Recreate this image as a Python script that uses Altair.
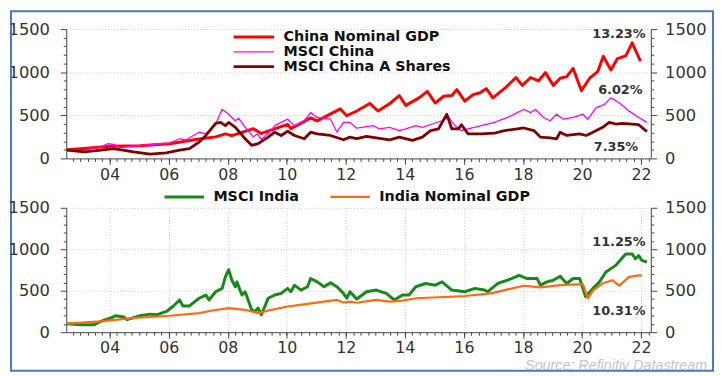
import altair as alt
import pandas as pd

# ---------------- data (x = decimal year) ----------------
cn_gdp_t = [2002.55, 2002.92, 2004.03, 2005.03, 2006.03, 2007.03, 2007.59, 2007.92, 2008.14, 2008.87,
            2009.14, 2010.03, 2010.14, 2010.81, 2011.03, 2011.81, 2012.03, 2012.37, 2012.81, 2013.09,
            2013.48, 2013.81, 2014.03, 2014.48, 2014.76, 2015.03, 2015.31, 2015.59, 2015.76, 2016.03,
            2016.31, 2016.53, 2016.76, 2016.98, 2017.42, 2017.76, 2017.98, 2018.26, 2018.53, 2018.76,
            2019.03, 2019.26, 2019.48, 2019.70, 2019.98, 2020.26, 2020.53, 2020.72, 2020.98, 2021.20,
            2021.48, 2021.70, 2021.98]
cn_gdp_v = [100, 110, 140, 148, 170, 225, 250, 285, 265, 345,
            290, 395, 345, 470, 435, 575, 495, 550, 638, 550,
            634, 729, 615, 702, 778, 642, 721, 729, 797, 664,
            740, 759, 809, 702, 824, 938, 847, 938, 900, 995,
            847, 930, 949, 1044, 786, 930, 1006, 1185, 1025, 1158,
            1189, 1340, 1128]

msci_cn_t = [2002.55, 2003.03, 2003.70, 2003.92, 2004.14, 2004.37, 2005.03, 2005.70, 2006.03, 2006.37,
             2006.59, 2007.03, 2007.26, 2007.59, 2007.81, 2008.03, 2008.26, 2008.37, 2008.59, 2008.87,
             2009.00, 2009.14, 2009.40, 2009.59, 2010.03, 2010.26, 2010.59, 2010.81, 2011.03, 2011.48,
             2011.70, 2011.92, 2012.14, 2012.37, 2012.92, 2013.14, 2013.48, 2013.81, 2014.03, 2014.37,
             2014.59, 2014.92, 2015.26, 2015.48, 2015.70, 2015.92, 2016.14, 2016.59, 2017.03, 2017.48,
             2017.81, 2018.03, 2018.26, 2018.42, 2018.70, 2018.92, 2019.14, 2019.37, 2019.70, 2020.03,
             2020.20, 2020.48, 2020.76, 2020.98, 2021.26, 2021.59, 2021.92, 2022.20]
msci_cn_v = [102, 87, 133, 170, 163, 125, 148, 170, 178, 228,
             216, 304, 285, 400, 570, 513, 437, 467, 361, 250,
             285, 220, 300, 380, 455, 380, 437, 531, 475, 455,
             304, 418, 418, 350, 380, 342, 361, 323, 342, 380,
             361, 399, 437, 475, 380, 323, 342, 380, 418, 475,
             531, 570, 531, 570, 475, 437, 513, 455, 475, 513,
             455, 589, 627, 702, 645, 551, 475, 418]

msci_cna_t = [2002.55, 2003.14, 2003.70, 2004.14, 2004.81, 2005.37, 2005.92, 2006.37, 2006.70, 2007.03,
              2007.26, 2007.59, 2007.76, 2007.92, 2008.03, 2008.26, 2008.59, 2008.81, 2009.03, 2009.37,
              2009.59, 2009.81, 2010.03, 2010.26, 2010.59, 2010.81, 2011.03, 2011.48, 2011.92, 2012.14,
              2012.37, 2012.70, 2013.03, 2013.48, 2013.81, 2014.26, 2014.59, 2014.87, 2015.14, 2015.42,
              2015.59, 2015.81, 2015.92, 2016.14, 2016.59, 2017.03, 2017.37, 2017.81, 2018.03, 2018.37,
              2018.59, 2018.92, 2019.14, 2019.26, 2019.48, 2019.92, 2020.14, 2020.37, 2020.70, 2020.92,
              2021.14, 2021.37, 2021.70, 2021.92, 2022.20]
msci_cna_v = [95, 76, 95, 114, 76, 50, 65, 95, 114, 190,
              266, 406, 418, 380, 418, 361, 228, 152, 171, 247,
              304, 266, 315, 266, 228, 304, 285, 266, 216, 247,
              230, 255, 239, 216, 247, 209, 247, 323, 342, 513,
              342, 342, 391, 285, 285, 292, 323, 342, 353, 323,
              247, 239, 228, 304, 266, 285, 266, 304, 361, 418,
              399, 406, 399, 391, 311]

msci_in_t = [2002.55, 2003.03, 2003.48, 2003.70, 2004.03, 2004.20, 2004.48, 2004.59, 2005.03, 2005.37,
             2005.59, 2005.92, 2006.14, 2006.37, 2006.48, 2006.70, 2007.03, 2007.26, 2007.37, 2007.59,
             2007.81, 2007.92, 2008.03, 2008.14, 2008.26, 2008.31, 2008.48, 2008.59, 2008.81, 2008.92,
             2009.03, 2009.14, 2009.37, 2009.59, 2009.81, 2010.03, 2010.14, 2010.26, 2010.48, 2010.70,
             2010.81, 2011.03, 2011.26, 2011.48, 2011.70, 2011.92, 2012.03, 2012.14, 2012.37, 2012.70,
             2013.03, 2013.37, 2013.64, 2013.92, 2014.14, 2014.37, 2014.70, 2015.03, 2015.26, 2015.59,
             2016.03, 2016.37, 2016.70, 2016.81, 2017.14, 2017.48, 2017.87, 2018.14, 2018.48, 2018.59,
             2018.81, 2019.03, 2019.26, 2019.48, 2019.70, 2019.92, 2020.12, 2020.37, 2020.59, 2020.81,
             2021.14, 2021.48, 2021.70, 2021.81, 2021.92, 2022.03, 2022.20]
msci_in_v = [103, 91, 91, 131, 171, 198, 183, 151, 198, 218,
             210, 250, 310, 389, 317, 317, 409, 448, 389, 488,
             528, 667, 754, 627, 548, 607, 448, 488, 270, 250,
             290, 210, 409, 448, 468, 528, 488, 567, 508, 548,
             647, 607, 548, 595, 548, 468, 409, 488, 400, 488,
             508, 468, 389, 448, 448, 548, 587, 567, 607, 508,
             488, 528, 508, 488, 587, 627, 686, 647, 647, 567,
             607, 627, 675, 587, 647, 647, 429, 528, 607, 726,
             806, 944, 944, 885, 924, 865, 845]

in_gdp_t = [2002.55, 2003.70, 2004.81, 2006.03, 2007.03, 2007.48, 2008.03, 2008.59, 2009.03, 2009.48,
            2010.03, 2010.70, 2011.26, 2011.70, 2011.92, 2012.14, 2012.37, 2013.03, 2013.48, 2013.92,
            2014.37, 2015.14, 2016.03, 2016.92, 2017.48, 2018.03, 2018.59, 2019.26, 2020.03, 2020.20,
            2020.37, 2020.70, 2021.03, 2021.26, 2021.59, 2021.92, 2022.03]
in_gdp_v = [103, 131, 171, 198, 230, 262, 290, 270, 230, 270,
            310, 341, 369, 389, 357, 369, 355, 389, 369, 381,
            409, 421, 436, 468, 516, 560, 540, 567, 580, 409,
            500, 590, 627, 560, 667, 686, 686]

top_names = ["China Nominal GDP", "MSCI China", "MSCI China A Shares"]
top_colors = ["#ff0000", "#ff00ff", "#7f0000"]
top_widths = [3, 1.3, 2.8]
bot_names = ["MSCI India", "India Nominal GDP"]
bot_colors = ["#168a16", "#ff6a10"]
bot_widths = [3, 2.2]

top_notes = ["13.23%", "6.02%", "7.35%"]
top_note_x = [2021.25, 2021.3, 2021.15]
top_note_y = [1440, 790, 128]
bot_notes = ["11.25%", "10.31%"]
bot_note_x = [2021.25, 2021.25]
bot_note_y = [1090, 252]

# ---------------- tables ----------------
def long_table(parts):
    rows = []
    for name, ts, vs in parts:
        for t, v in zip(ts, vs):
            rows.append({"series": name, "year": t, "value": v})
    return pd.DataFrame(rows)

top_df = long_table([(top_names[0], cn_gdp_t, cn_gdp_v),
                     (top_names[1], msci_cn_t, msci_cn_v),
                     (top_names[2], msci_cna_t, msci_cna_v)])
bot_df = long_table([(bot_names[0], msci_in_t, msci_in_v),
                     (bot_names[1], in_gdp_t, in_gdp_v)])
top_note_df = pd.DataFrame({"year": top_note_x, "value": top_note_y, "label": top_notes})
bot_note_df = pd.DataFrame({"year": bot_note_x, "value": bot_note_y, "label": bot_notes})
one_row = pd.DataFrame({"a": [0]})

FONT = "DejaVu Sans"
SRC_FONT = "Liberation Sans"
W = 592
TOP_H, BOT_H, GAP = 131, 126, 50
XMIN, XMAX = 2002.53, 2022.33
xscale = alt.Scale(domain=[XMIN, XMAX], nice=False, zero=False)
yscale = alt.Scale(domain=[0, 1500], nice=False, zero=True)

x_major = list(range(2004, 2023, 2))
x_minor = [y + q / 4 for y in range(2002, 2023) for q in range(4) if XMIN <= y + q / 4 <= XMAX]
y_vals = list(range(0, 1501, 100))
AXC = "#444444"


def x_axis_major(grid_opacity):
    return alt.Axis(
        orient="bottom", values=x_major, offset=0,
        labelExpr="substring(toString(datum.value), 2, 4)",
        tickSize=6, grid=True, gridOpacity=grid_opacity,
        gridColor="#c8c8c8", gridDash=[1, 2], gridWidth=1,
        labelFont=FONT, labelFontSize=16, labelColor="#333333", labelPadding=2,
        labelOverlap=False, labelFlush=False,
        domainColor=AXC, tickColor=AXC, title=None,
    )


def x_axis_minor():
    return alt.Axis(
        orient="bottom", values=x_minor, labels=False, tickSize=3, grid=False, offset=0,
        domain=False, tickColor=AXC, title=None,
    )


def y_axis(orient, grid):
    return alt.Axis(
        orient=orient,
        values=y_vals,
        labelExpr="datum.value % 500 === 0 ? toString(datum.value) : ''",
        tickSize={"condition": {"test": "datum.value % 500 === 0", "value": 6}, "value": 3},
        grid=grid,
        gridOpacity={"condition": {"test": "datum.value % 500 === 0 && datum.value > 0", "value": 1}, "value": 0},
        gridColor="#c8c8c8", gridDash=[1, 2], gridWidth=1,
        labelFont=FONT, labelFontSize=16.5, labelColor="#333333",
        labelPadding=11 if orient == "left" else 8,
        labelOverlap=False, labelFlush=False,
        domainColor=AXC, tickColor=AXC, title=None,
    )


def panel(df, names, colors, widths, notes_df, height, legend, x_grid_opacity, extra=None):
    lines = alt.Chart(df).mark_line(strokeJoin="round").encode(
        x=alt.X("year:Q", scale=xscale, axis=x_axis_major(x_grid_opacity)),
        y=alt.Y("value:Q", scale=yscale, axis=y_axis("left", True)),
        color=alt.Color("series:N", scale=alt.Scale(domain=names, range=colors), legend=legend, sort=names),
        strokeWidth=alt.StrokeWidth("series:N", scale=alt.Scale(type="ordinal", domain=names, range=widths),
                                    legend=legend, sort=names),
        order=alt.Order("year:Q"),
    )
    right = alt.Chart(df).mark_line(opacity=0).encode(
        x=alt.X("year:Q", scale=xscale, axis=x_axis_minor()),
        y=alt.Y("value:Q", scale=yscale, axis=y_axis("right", False)),
        detail="series:N",
    )
    notes = alt.Chart(notes_df).mark_text(
        font=FONT, fontSize=13, fontWeight="bold", color="#333333", align="center", baseline="middle"
    ).encode(
        x=alt.X("year:Q", scale=xscale, axis=None),
        y=alt.Y("value:Q", scale=yscale, axis=None),
        text="label:N",
    )
    layers = []
    if extra is not None:
        layers.extend(extra)
    layers.extend([lines, right, notes])
    return alt.layer(*layers).resolve_axis(x="independent", y="independent").properties(width=W, height=height)


top_legend = alt.Legend(
    orient="none", legendX=168, legendY=1, title=None, symbolType="stroke", symbolSize=1681,
    labelFont=FONT, labelFontSize=14.5, labelFontWeight="bold", labelColor="#111111", labelLimit=400,
    labelOffset=8, rowPadding=0, padding=0, direction="vertical", clipHeight=14,
)
bot_legend = alt.Legend(
    orient="none", legendX=98, legendY=-18, title=None, symbolType="stroke", symbolSize=1600,
    labelFont=FONT, labelFontSize=14.5, labelFontWeight="bold", labelColor="#111111", labelLimit=400,
    labelOffset=8, padding=0, direction="horizontal", columns=2, columnPadding=30, clipHeight=14,
    gridAlign="none",
)

frame = alt.Chart(one_row).mark_rect(fill=None, stroke="#4a78b8", strokeWidth=2).encode(
    x=alt.value(-56), x2=alt.value(655), y=alt.value(-18), y2=alt.value(346)
)
source = alt.Chart(one_row).mark_text(
    font=SRC_FONT, fontSize=14.5, fontStyle="italic", color="#c4c4c4", align="right", baseline="middle"
).encode(x=alt.value(649), y=alt.value(160), text=alt.value("Source: Refinitiv Datastream"))

top = panel(top_df, top_names, top_colors, top_widths, top_note_df, TOP_H, top_legend, 0, extra=[frame])
bottom = panel(bot_df, bot_names, bot_colors, bot_widths, bot_note_df, BOT_H, bot_legend, 1, extra=[source])

chart = alt.vconcat(top, bottom, spacing=GAP, bounds="flush").resolve_scale(
    y="independent", color="independent", strokeWidth="independent"
).properties(padding=0, background="white").configure_view(stroke=None)

chart.save("out.html", embed_options={"renderer": "svg", "actions": False})
